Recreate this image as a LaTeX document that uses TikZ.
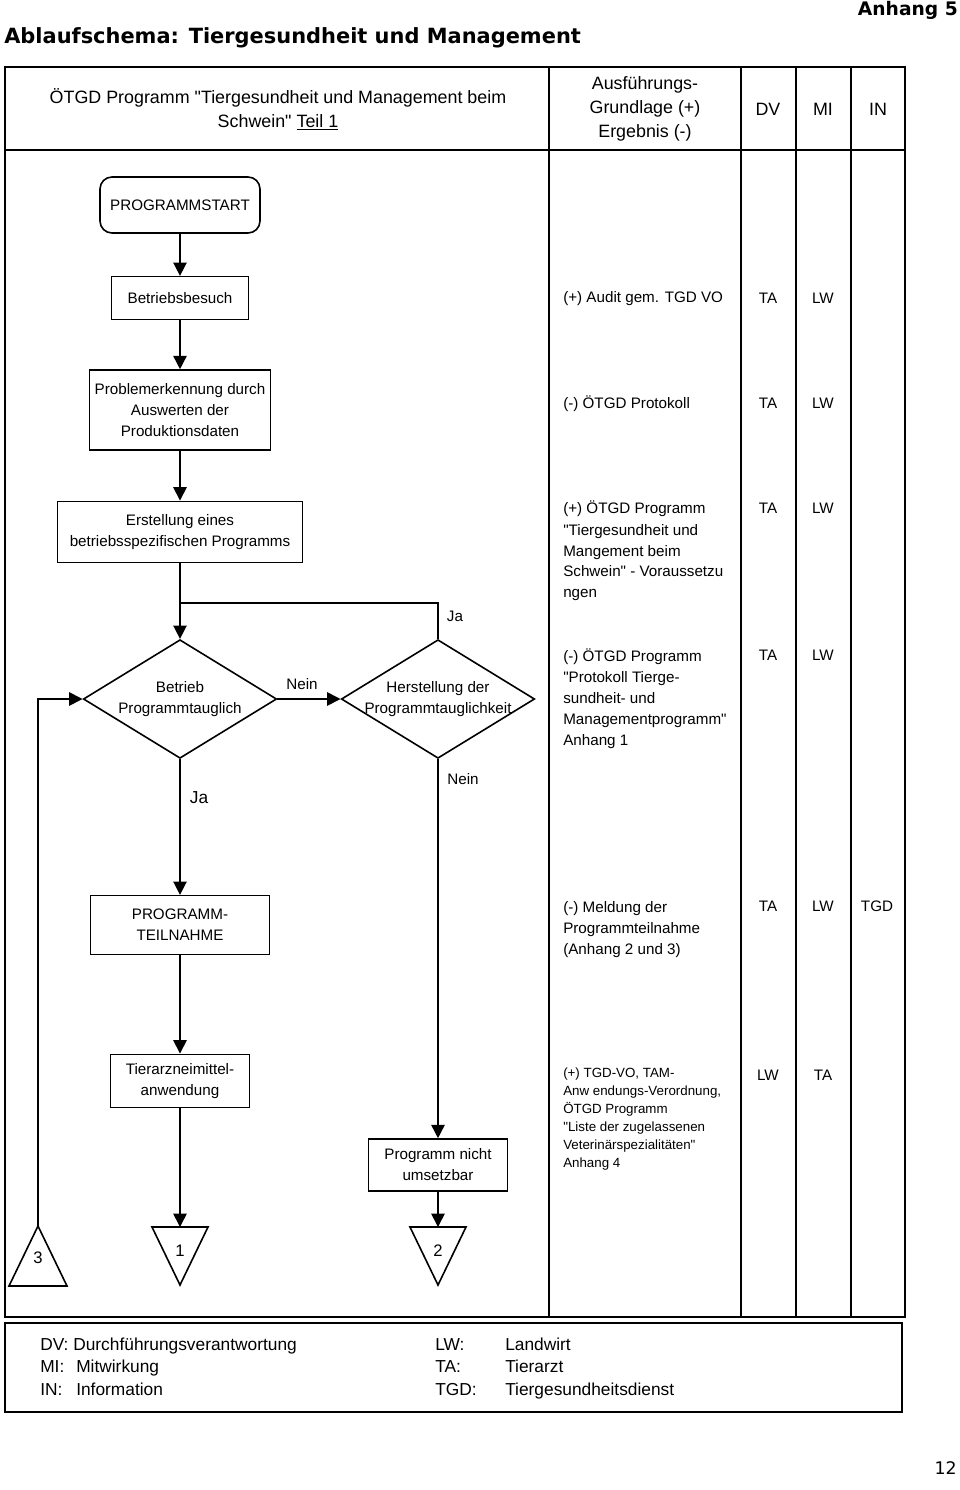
\documentclass[tikz,border=0pt]{standalone}
\usepackage{fontspec}
\setmainfont{Liberation Sans}[Ligatures=TeXOff]
\newfontfamily\headfont{DejaVu Sans}
\usetikzlibrary{shapes.geometric,arrows.meta,positioning}

\tikzset{
  flowbox/.style={draw,line width=1.2pt,align=center,inner sep=0pt,
    font=\fontsize{11.4}{15.75}\selectfont},
  decide/.style={draw,diamond,line width=1.2pt,inner sep=0pt,
    minimum width=145pt,minimum height=89pt},
  dtext/.style={align=center,font=\fontsize{11.4}{15.75}\selectfont},
  note/.style={anchor=north west,align=left,inner sep=0pt,
    font=\fontsize{11.4}{15.75}\selectfont},
  smallnote/.style={anchor=north west,align=left,inner sep=0pt,
    font=\fontsize{10}{13.5}\selectfont},
  role/.style={inner sep=0pt,font=\fontsize{11.4}{14}\selectfont},
  hdr/.style={align=center,inner sep=0pt,font=\fontsize{13.4}{18}\selectfont},
  legend/.style={anchor=base west,inner sep=0pt,font=\fontsize{13}{17}\selectfont},
  answer/.style={inner sep=0pt,font=\fontsize{11.4}{14}\selectfont},
  flow/.style={line width=1.2pt,-{Triangle[length=10pt,width=10pt]}},
  plain/.style={line width=1.2pt},
  tabline/.style={line width=1.4pt},
}

\begin{document}
\begin{tikzpicture}[x=0.75pt,y=-0.75pt]
\useasboundingbox (0,0) rectangle (960,1490);

% Kopf
\node[anchor=east,inner sep=0pt,font=\headfont\bfseries\fontsize{14}{17}\selectfont] (anhang) at (958,10) {Anhang 5};
\node[anchor=west,inner sep=0pt,font=\headfont\bfseries\fontsize{15.7}{19}\selectfont] (title) at (4,38) {Ablaufschema: Tiergesundheit und Management};

% Tabelle
\draw[line width=1.8pt] (5,67) rectangle (905,1317);
\draw[line width=1.8pt] (5,150) -- (905,150);
\foreach \x in {549,741,796,851}
  \draw[tabline] (\x,67) -- (\x,1317);

\node[hdr] (hprog) at (278,109) {ÖTGD Programm "Tiergesundheit und Management beim\\Schwein" \underline{Teil 1}};
\node[hdr] (hgrund) at (645,109) {Ausführungs-\\Grundlage (+)\\Ergebnis (-)};
\node[hdr] (hdv) at (768,109) {DV};
\node[hdr] (hmi) at (823,109) {MI};
\node[hdr] (hin) at (878,109) {IN};

% Ablauf
\node[flowbox,rounded corners=9pt,minimum width=120pt,minimum height=42pt] (start) at (180,205) {PROGRAMMSTART};
\node[flowbox,minimum width=103pt,minimum height=32pt] (besuch) at (180,298) {Betriebsbesuch};
\node[flowbox,minimum width=136pt,minimum height=60pt] (problem) at (180,410) {Problemerkennung durch\\Auswerten der\\Produktionsdaten};
\node[flowbox,minimum width=184pt,minimum height=46pt] (erst) at (180,532) {Erstellung eines\\betriebsspezifischen Programms};
\node[decide,label={[dtext]center:Betrieb\\Programmtauglich}] (d1) at (180,699) {};
\node[decide,label={[dtext]center:Herstellung der\\Programmtauglichkeit}] (d2) at (438,699) {};
\node[flowbox,minimum width=134pt,minimum height=44pt] (teil) at (180,925) {PROGRAMM-\\TEILNAHME};
\node[flowbox,minimum width=104pt,minimum height=40pt] (tam) at (180,1081) {Tierarzneimittel-\\anwendung};
\node[flowbox,minimum width=104pt,minimum height=39pt] (nicht) at (438,1165) {Programm nicht\\umsetzbar};

\coordinate (j1) at (180,603);
\coordinate (t1) at (180,1227);
\coordinate (t2) at (438,1227);
\coordinate (t3) at (38,1226);

% Konnektoren
\draw[plain] (t3) -- ++(29,60) -- ++(-58,0) -- cycle;
\draw[plain] (t1) ++(-28,0) -- ++(56,0) -- ++(-28,58) -- cycle;
\draw[plain] (t2) ++(-28,0) -- ++(56,0) -- ++(-28,58) -- cycle;
\node[role,font=\fontsize{12.5}{14}\selectfont] (n3) at (38,1258) {3};
\node[role,font=\fontsize{12.5}{14}\selectfont] (n1) at (180,1251) {1};
\node[role,font=\fontsize{12.5}{14}\selectfont] (n2) at (438,1251) {2};

\draw[flow] (start) -- (besuch);
\draw[flow] (besuch) -- (problem);
\draw[flow] (problem) -- (erst);
\draw[flow] (erst) -- (d1);
\draw[plain] (d2) -- (d2 |- j1) -- (j1);
\draw[flow] (d1) -- (d2);
\draw[flow] (d1) -- (teil);
\draw[flow] (teil) -- (tam);
\draw[flow] (d2) -- (nicht);
\draw[flow] (tam) -- (t1);
\draw[flow] (nicht) -- (t2);
\draw[flow] (t3) |- (d1);

\node[answer] (ja1) at (455,616) {Ja};
\node[answer] (nein1) at (302,684) {Nein};
\node[answer,font=\fontsize{13}{15}\selectfont] (ja2) at (199,798) {Ja};
\node[answer] (nein2) at (463,779) {Nein};

% Grundlagen
\node[note] (g1) at (563,291) {(+) Audit gem. TGD VO};
\node[note] (g2) at (563,396) {(-) ÖTGD Protokoll};
\node[note] (g3) at (563,501) {(+) ÖTGD Programm\\"Tiergesundheit und\\Mangement beim\\Schwein" - Voraussetzu\\ngen};
\node[note] (g4) at (563,648) {(-) ÖTGD Programm\\"Protokoll Tierge-\\sundheit- und\\Managementprogramm"\\Anhang 1};
\node[note] (g5) at (563,901) {(-) Meldung der\\Programmteilnahme\\(Anhang 2 und 3)};
\node[smallnote] (g6) at (563,1068) {(+) TGD-VO, TAM-\\Anw endungs-Verordnung,\\ÖTGD Programm\\"Liste der zugelassenen\\Veterinärspezialitäten"\\Anhang 4};

\foreach \y in {298,403,508,655,906} {
  \node[role] (ta\y) at (768,\y) {TA};
  \node[role] (lw\y) at (823,\y) {LW};
}
\node[role] (tgd906) at (877,906) {TGD};
\node[role] (lw1075) at (768,1075) {LW};
\node[role] (ta1075) at (823,1075) {TA};

% Legende
\draw[line width=1.6pt] (5,1323) rectangle (902,1412);
\node[legend] (kdv) at (40,1350) {DV: Durchführungsverantwortung};
\node[legend] (kmi) at (40,1372) {MI:};
\node[legend] (kmit) at (76,1372) {Mitwirkung};
\node[legend] (kin) at (40,1395) {IN:};
\node[legend] (kinf) at (76,1395) {Information};
\node[legend] (klw) at (435,1350) {LW:};
\node[legend] (klwt) at (505,1350) {Landwirt};
\node[legend] (kta) at (435,1372) {TA:};
\node[legend] (ktat) at (505,1372) {Tierarzt};
\node[legend] (ktgd) at (435,1395) {TGD:};
\node[legend] (ktgdt) at (505,1395) {Tiergesundheitsdienst};

\node[anchor=east,inner sep=0pt,font=\headfont\fontsize{13}{16}\selectfont] (seite) at (957,1468) {12};
\end{tikzpicture}
\end{document}
